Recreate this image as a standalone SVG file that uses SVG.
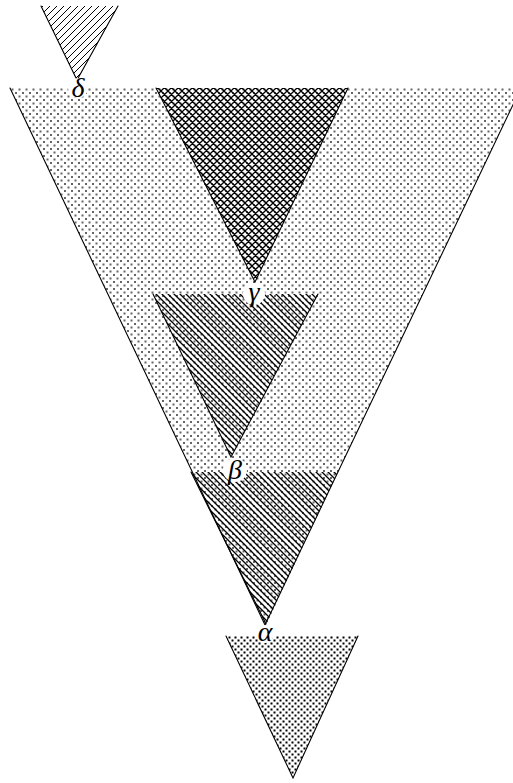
<svg xmlns="http://www.w3.org/2000/svg" width="513" height="783" viewBox="0 0 513 783">
<style>
.edge{fill:none;stroke:#000;stroke-width:1.1;stroke-linecap:round}
.lbl{font-family:"Liberation Serif","DejaVu Serif",serif;font-style:italic;font-size:28px;fill:#000;text-anchor:middle}
.halo{fill:#fff}
</style>
<defs>
<pattern id="greyDots" patternUnits="userSpaceOnUse" width="7" height="7">
<rect x="1" y="1" width="2" height="2" fill="#666"/>
<rect x="4.5" y="4.5" width="2" height="2" fill="#666"/>
</pattern>
<pattern id="blackDots" patternUnits="userSpaceOnUse" width="6" height="6">
<rect x="0.5" y="0.5" width="2" height="2" fill="#000"/>
<rect x="3.5" y="3.5" width="2" height="2" fill="#000"/>
</pattern>
<pattern id="nwLines" patternUnits="userSpaceOnUse" width="6" height="6">
<path d="M0,0 L6,6 M-1,5 L1,7 M5,-1 L7,1" stroke="#000" stroke-width="1.3"/>
</pattern>
<pattern id="neLines" patternUnits="userSpaceOnUse" width="7" height="7">
<path d="M0,7 L7,0 M-1,1 L1,-1 M6,8 L8,6" stroke="#000" stroke-width="1"/>
</pattern>
<pattern id="crossHatch" patternUnits="userSpaceOnUse" width="7" height="7">
<path d="M0,0 L7,7 M-1,6 L1,8 M6,-1 L8,1 M0,7 L7,0 M-1,1 L1,-1 M6,8 L8,6" stroke="#000" stroke-width="1.3"/>
</pattern>
</defs>
<g id="big-triangle">
<polygon points="10,88 521,88 265,625" fill="url(#greyDots)"/>
<path class="edge" d="M10,88 L265,625 L521,88"/>
</g>
<g id="lower-hatch">
<polygon points="191,472 338,472 266,625" fill="url(#nwLines)"/>
<path class="edge" d="M191,472 L266,624"/>
</g>
<g id="delta-triangle">
<polygon points="41,6 118,6 77,80" fill="url(#neLines)"/>
<path class="edge" d="M41,6 L77,80 L118,6"/>
</g>
<g id="gamma-triangle">
<polygon points="156,88 348,88 255,282" fill="url(#crossHatch)"/>
<path class="edge" d="M156,88 L255,282 L348,88"/>
</g>
<g id="beta-triangle">
<polygon points="153,294 318,294 231,457" fill="url(#nwLines)"/>
<path class="edge" d="M153,294 L231,457 L318,294"/>
</g>
<g id="alpha-triangle">
<polygon points="226,636 358,636 293,778" fill="url(#blackDots)"/>
<path class="edge" d="M226,636 L293,778 L358,636"/>
</g>
<g id="connectors"></g>
<g id="label-delta">
<circle class="halo" cx="78" cy="88" r="10"/>
<text class="lbl" x="78" y="97">δ</text>
</g>
<g id="label-gamma">
<circle class="halo" cx="254" cy="294" r="11"/>
<text class="lbl" x="254" y="301">γ</text>
</g>
<g id="label-beta">
<circle class="halo" cx="235" cy="470" r="12"/>
<text class="lbl" x="235" y="479">β</text>
</g>
<g id="label-alpha">
<circle class="halo" cx="265" cy="634" r="9"/>
<text class="lbl" x="265" y="641">α</text>
</g>
</svg>
